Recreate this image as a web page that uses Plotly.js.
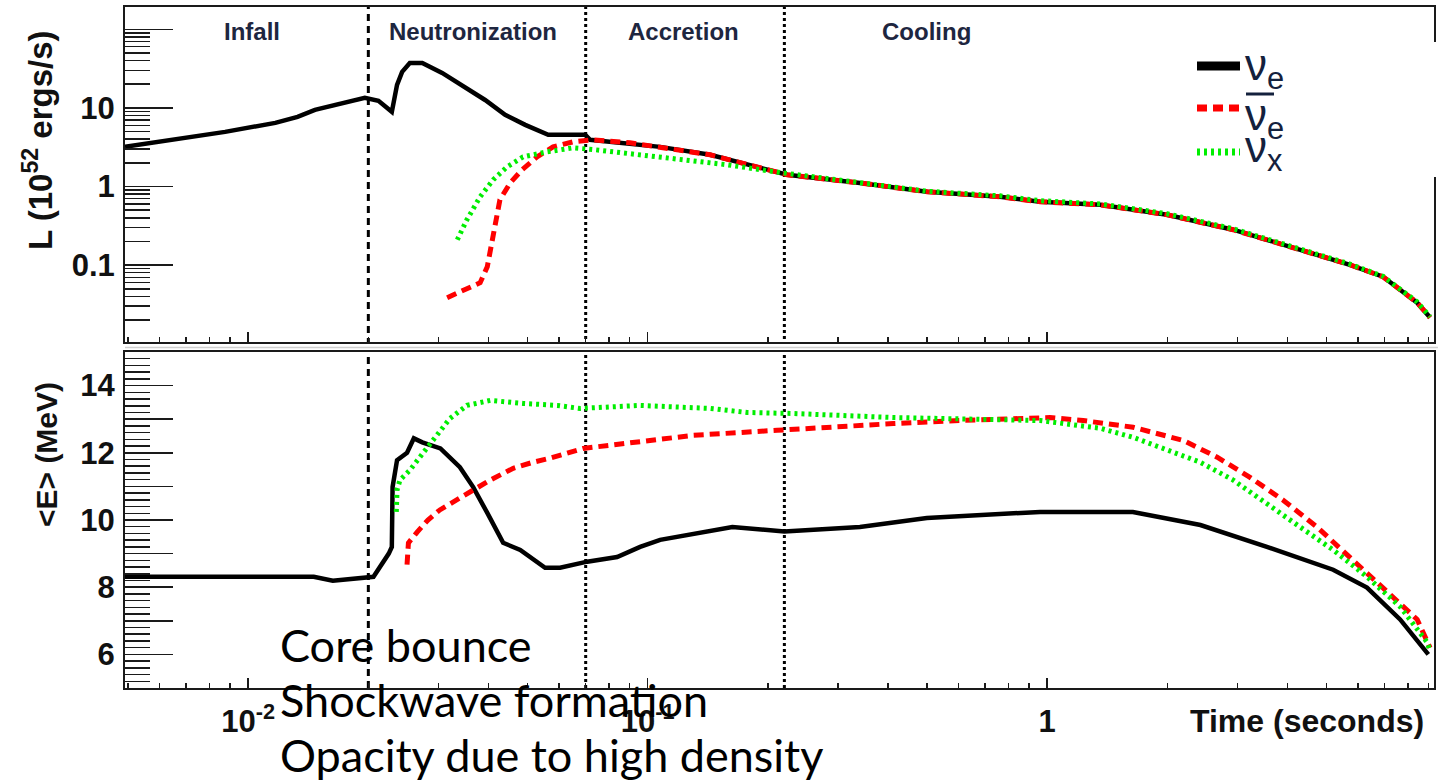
<!DOCTYPE html>
<html>
<head>
<meta charset="utf-8">
<script src="https://cdn.plot.ly/plotly-3.0.1.min.js"></script>
<style>
html,body{margin:0;padding:0;background:#fff;}
#chart{width:1439px;height:781px;}
</style>
</head>
<body>
<div id="chart"></div>
<script>
// ---------- data ----------
// Top panel: luminosity L (10^52 erg/s) vs time (s)
const tL_nue = [0.00492,0.00656,0.00876,0.0117,0.0133,0.0147,0.0172,0.0196,0.0212,0.0229,0.0236,0.0243,0.0254,0.0273,0.0306,0.0355,0.0392,0.044,0.0494,0.0564,0.0698,0.0718,0.1075,0.1434,0.1912,0.2235,0.3403,0.5008,0.7627,0.9605,1.358,1.997,2.922,4.30,5.73,6.93,7.65,8.44,9.09];
const L_nue  = [3.19,3.92,4.95,6.45,7.69,9.43,11.6,13.4,12.3,8.9,19.6,28.7,37.3,37.3,27.8,16.9,12.6,8.15,6.08,4.54,4.54,3.92,3.19,2.53,1.73,1.41,1.11,0.857,0.74,0.64,0.585,0.437,0.282,0.157,0.101,0.0712,0.0487,0.0333,0.0215];

const tL_nuebar = [0.0315,0.0381,0.0397,0.0408,0.0427,0.0453,0.0485,0.0529,0.058,0.0651,0.0731,0.0904,0.1075,0.1434,0.1912,0.2235,0.3403,0.5008,0.7627,0.9605,1.358,1.997,2.922,4.30,5.73,6.93,7.65,8.44,9.09];
const L_nuebar  = [0.0385,0.0597,0.0955,0.21,0.678,1.11,1.63,2.38,3.19,3.70,3.92,3.59,3.19,2.53,1.73,1.41,1.11,0.857,0.74,0.64,0.585,0.437,0.282,0.157,0.101,0.0712,0.0487,0.0333,0.0215];

const tL_nux = [0.0334,0.0353,0.0381,0.0411,0.0445,0.0488,0.056,0.0651,0.0731,0.092,0.1075,0.158,0.218,0.3403,0.5008,0.7627,0.9605,1.358,1.997,2.922,4.30,5.73,6.93,7.65,8.44,9.09];
const L_nux  = [0.21,0.378,0.74,1.22,1.78,2.38,2.76,3.10,2.95,2.6,2.38,1.89,1.49,1.13,0.87,0.76,0.66,0.60,0.45,0.29,0.16,0.103,0.072,0.049,0.034,0.022];

// Bottom panel: mean energy <E> (MeV) vs time (s)
const tE_nue = [0.00492,0.0146,0.0163,0.0199,0.0206,0.0225,0.0229,0.0230,0.0236,0.0250,0.0260,0.0273,0.0303,0.0339,0.0366,0.0397,0.0435,0.0480,0.0554,0.0604,0.0706,0.0839,0.0958,0.1075,0.163,0.22,0.34,0.50,0.96,1.64,2.42,3.55,5.20,6.32,7.65,9.0];
const E_nue  = [8.31,8.31,8.19,8.31,8.31,9.0,9.2,10.98,11.78,12.0,12.43,12.31,12.13,11.57,10.98,10.21,9.32,9.11,8.58,8.58,8.76,8.90,9.20,9.41,9.79,9.66,9.79,10.06,10.24,10.24,9.85,9.2,8.52,7.99,7.04,6.0];

const tE_nuebar = [0.0250,0.0252,0.0265,0.0282,0.0302,0.0334,0.0366,0.0404,0.0461,0.0517,0.057,0.069,0.0792,0.0941,0.13,0.211,0.281,0.412,0.606,0.923,1.017,1.231,1.642,2.19,2.665,3.22,3.90,4.74,5.73,6.93,8.44,9.09];
const E_nuebar  = [8.67,9.32,9.64,10.0,10.30,10.59,10.89,11.19,11.54,11.72,11.84,12.13,12.22,12.31,12.52,12.67,12.76,12.87,12.96,13.02,13.05,12.96,12.76,12.37,11.87,11.27,10.59,9.79,8.90,8.01,7.04,6.2];

const tE_nux = [0.0235,0.0236,0.0240,0.0254,0.0274,0.0297,0.032,0.0353,0.0404,0.0488,0.0594,0.0678,0.0958,0.1434,0.1774,0.2312,0.4117,0.9605,1.1225,1.358,1.642,1.997,2.416,2.922,3.554,4.30,5.20,6.32,7.65,8.94,9.09];
const E_nux  = [10.24,10.89,11.19,11.48,11.99,12.52,13.02,13.41,13.56,13.47,13.41,13.32,13.41,13.32,13.2,13.17,13.05,12.96,12.87,12.73,12.46,12.07,11.72,11.19,10.5,9.79,9.11,8.31,7.42,6.36,6.1];

// Phase boundaries (s) and phase labels
const boundaries = [0.02, 0.07, 0.22];
const boundaryDash = ['7px,5px','3px,3px','3px,3px'];
const phaseNames = ['Infall','Neutronization','Accretion','Cooling'];
const phaseCenters = [0.0102, 0.0365, 0.123, 0.50];

const seriesNames = ['ν<sub>e</sub>', 'ν<sub>e</sub>', 'ν<sub>x</sub>'];
const seriesBar = [false, true, false];   // antineutrino bar over ν
const seriesColors = ['#000000', '#ff0000', '#00ee00'];

const xTickVals = [0.01, 0.1, 1];
const xTickText = ['10<sup>-2</sup>', '10<sup>-1</sup>', '1'];
const yTopTickVals = [0.1, 1, 10, 100];
const yTopTickText = ['0.1', '1', '10', ''];
const yBotTickVals = [6,7,8,9,10,11,12,13,14];
const yBotTickText = ['6','','8','','10','','12','','14'];

const notes = ['Core bounce', 'Shockwave formation', 'Opacity due to high density'];

// ---------- layout geometry ----------
const W = 1439, H = 781;
const mL = 125, mR = 5, mT = 7, mB = 93;
const pw = W - mL - mR, ph = H - mT - mB;
const px = v => (v - mL) / pw;        // pixel -> paper x
const py = v => (H - mB - v) / ph;    // pixel -> paper y

const FONT = 'Liberation Sans, Arial, sans-serif';
const lineStyles = [
  {color: seriesColors[0], width: 4.5},
  {color: seriesColors[1], width: 5, dash: '10px,6px'},
  {color: seriesColors[2], width: 5, dash: '3px,4px'}
];

const traces = [];
const topX = [tL_nue, tL_nuebar, tL_nux], topY = [L_nue, L_nuebar, L_nux];
const botX = [tE_nue, tE_nuebar, tE_nux], botY = [E_nue, E_nuebar, E_nux];

// phase boundary lines (both panels)
boundaries.forEach((b, i) => {
  traces.push({x:[b,b], y:[1e-4,1e5], xaxis:'x', yaxis:'y', mode:'lines', showlegend:false, hoverinfo:'skip',
    line:{color:'#000', width:3, dash:boundaryDash[i]}});
  traces.push({x:[b,b], y:[0,20], xaxis:'x2', yaxis:'y2', mode:'lines', showlegend:false, hoverinfo:'skip',
    line:{color:'#000', width:3, dash:boundaryDash[i]}});
});

for (let i = 0; i < 3; i++) {
  traces.push({x: topX[i], y: topY[i], xaxis:'x', yaxis:'y', mode:'lines', name: seriesNames[i],
    line: lineStyles[i], showlegend: false});
}
for (let i = 0; i < 3; i++) {
  traces.push({x: botX[i], y: botY[i], xaxis:'x2', yaxis:'y2', mode:'lines', name: seriesNames[i],
    line: lineStyles[i], showlegend: false});
}

const axLine = {showline:true, linecolor:'#1a1a1a', linewidth:2, mirror:true, showgrid:false, zeroline:false};
const tickFont = {family: FONT, size: 31, color: '#111', weight: 'bold'};

const xRange = [Math.log10(0.00492), Math.log10(9.3)];
const topDomain = [py(342), 1];
const botDomain = [0, py(352)];

const annotations = [];
const shapes = [
  {type:'line', xref:'paper', yref:'paper', x0:0, x1:1.003, y0: py(347.5), y1: py(347.5),
   line:{color:'#cfcfcf', width:1.5}, layer:'above'},
  {type:'rect', xref:'paper', yref:'paper', x0: px(1180), x1: px(1439), y0: py(177), y1: py(42),
   fillcolor:'#fff', line:{width:0}, layer:'above'}
];

phaseNames.forEach((n, i) => {
  annotations.push({text: n, xref:'x', yref:'paper', x: Math.log10(phaseCenters[i]), y: py(32),
    showarrow:false, xanchor:'center', yanchor:'middle',
    font:{family: FONT, size: 24, color:'#1e2640', weight:'bold'}});
});
annotations.push({text:'L (10<sup>52</sup> ergs/s)', xref:'paper', yref:'paper', x: px(38), y: py(140),
  textangle:-90, showarrow:false, xanchor:'center', yanchor:'middle',
  font:{family: FONT, size: 33, color:'#111', weight:'bold'}});
annotations.push({text:'&lt;E&gt; (MeV)', xref:'paper', yref:'paper', x: px(46), y: py(455),
  textangle:-90, showarrow:false, xanchor:'center', yanchor:'middle',
  font:{family: FONT, size: 30, color:'#111', weight:'bold'}});
annotations.push({text:'Time (seconds)', xref:'paper', yref:'paper', x: px(1426), y: py(721),
  showarrow:false, xanchor:'right', yanchor:'middle',
  font:{family: FONT, size: 32, color:'#111', weight:'bold'}});
const noteY = [645, 700, 755];
notes.forEach((n, i) => {
  annotations.push({text:n, xref:'paper', yref:'paper', x: px(278), y: py(noteY[i]),
    showarrow:false, xanchor:'left', yanchor:'middle',
    font:{family:'Lato, Carlito, sans-serif', size: 45, color:'#000'}});
});

// custom legend (line samples + labels)
const legLineY = [66, 108, 152];
const legTextY = [68, 118, 150];
for (let i = 0; i < 3; i++) {
  shapes.push({type:'line', xref:'paper', yref:'paper', x0: px(1197), x1: px(1240),
    y0: py(legLineY[i]), y1: py(legLineY[i]), layer:'above',
    line:{color: seriesColors[i], width: i === 0 ? 9 : 7, dash: lineStyles[i].dash || 'solid'}});
  annotations.push({text: seriesNames[i], xref:'paper', yref:'paper', x: px(1243), y: py(legTextY[i]),
    showarrow:false, xanchor:'left', yanchor:'middle',
    font:{family: FONT, size: 44, color:'#14213d'}});
  if (seriesBar[i]) {
    shapes.push({type:'line', xref:'paper', yref:'paper', x0: px(1246), x1: px(1274),
      y0: py(94), y1: py(94), layer:'above', line:{color:'#14213d', width:3}});
  }
}

const layout = {
  width: W, height: H,
  margin: {l: mL, r: mR, t: mT, b: mB, autoexpand: false},
  paper_bgcolor: '#fff', plot_bgcolor: '#fff',
  showlegend: false,
  xaxis: Object.assign({}, axLine, {type:'log', range: xRange, domain:[0,1], anchor:'y',
    tickmode:'array', tickvals: xTickVals, ticktext: xTickText, showticklabels:false,
    ticks:'inside', ticklen:10, tickwidth:1.5, tickcolor:'#1a1a1a',
    minor:{ticks:'inside', ticklen:5, tickwidth:1.5, tickcolor:'#1a1a1a', dtick:'D1', showgrid:false}}),
  xaxis2: Object.assign({}, axLine, {type:'log', range: xRange, domain:[0,1], anchor:'y2', matches:'x',
    tickmode:'array', tickvals: xTickVals, ticktext: xTickText, showticklabels:true,
    ticks:'inside', ticklen:10, tickwidth:1.5, tickcolor:'#1a1a1a', tickfont: tickFont, ticklabelstandoff: 5,
    minor:{ticks:'inside', ticklen:5, tickwidth:1.5, tickcolor:'#1a1a1a', dtick:'D1', showgrid:false}}),
  yaxis: Object.assign({}, axLine, {type:'log', range:[-1.978, 2.283], domain: topDomain, anchor:'x',
    tickmode:'array', tickvals: yTopTickVals, ticktext: yTopTickText,
    ticks:'inside', ticklen:48, tickwidth:1.5, tickcolor:'#1a1a1a', tickfont: tickFont, ticklabelstandoff: 2,
    minor:{ticks:'inside', ticklen:25, tickwidth:1.5, tickcolor:'#1a1a1a', dtick:'D1', showgrid:false}}),
  yaxis2: Object.assign({}, axLine, {type:'linear', range:[5, 15], domain: botDomain, anchor:'x2',
    tickmode:'array', tickvals: yBotTickVals, ticktext: yBotTickText,
    ticks:'inside', ticklen:48, tickwidth:1.5, tickcolor:'#1a1a1a', tickfont: tickFont, ticklabelstandoff: 2,
    minor:{ticks:'inside', ticklen:25, tickwidth:1.5, tickcolor:'#1a1a1a', dtick:0.2, tick0:5, showgrid:false}}),
  shapes: shapes,
  annotations: annotations
};

Plotly.newPlot('chart', traces, layout, {staticPlot:true, displayModeBar:false});
</script>
</body>
</html>
